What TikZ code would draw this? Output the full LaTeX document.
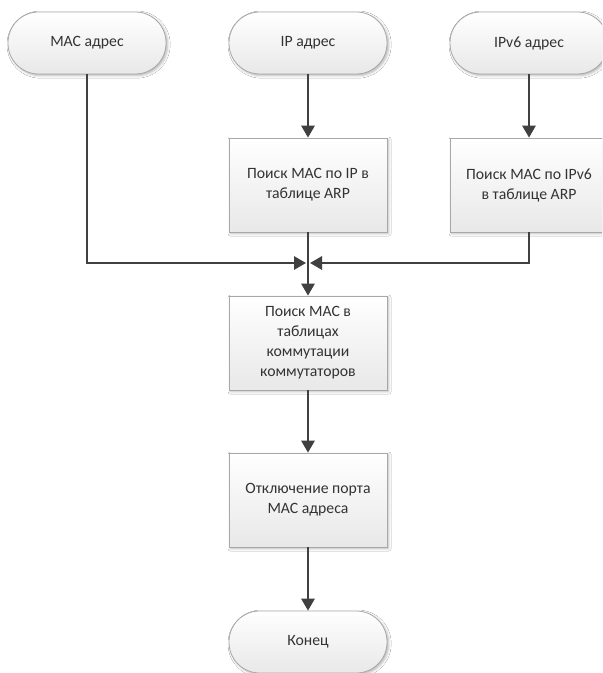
\documentclass[tikz,border=0pt]{standalone}
\usepackage{fontspec}
\setmainfont{Carlito}
\usetikzlibrary{arrows.meta,shadows.blur}
\definecolor{linec}{HTML}{404040}
\definecolor{edgec}{HTML}{A8A8A8}
\definecolor{textc}{HTML}{333333}
\begin{document}
\begin{tikzpicture}[x=0.75pt,y=-0.75pt,
  base/.style={draw=edgec, line width=0.6pt, top color=white, bottom color=black!9,
    text=textc, font=\fontsize{11.8}{15}\selectfont, align=center,
    blur shadow={shadow xshift=1.2pt, shadow yshift=-1.2pt, shadow opacity=30, shadow blur steps=4}},
  term/.style={base, minimum width=118.5pt, minimum height=46.5pt, rounded corners=23pt, inner sep=0pt},
  proc/.style={base, minimum width=118.5pt, minimum height=70.5pt, inner sep=2pt},
  flow/.style={draw=linec, line width=1.5pt, -{Triangle[length=9pt,width=10pt]}}]
\useasboundingbox (0,0) rectangle (602,673);
\begin{scope}[overlay]
\clip (0,0) rectangle (602,673);
\fill[white] (0,0) rectangle (602,673);

% start terminals
\node[term] (mac)  at (87,43)  {MAC адрес};
\node[term] (ip)   at (308,43) {IP адрес};
\node[term] (ipv6) at (529,43) {IPv6 адрес};

% lookup steps
\node[proc] (pip)   at (308,185) {Поиск MAC по IP в\\таблице ARP};
\node[proc] (pipv6) at (529,185) {Поиск MAC по IPv6\\в таблице ARP};
\node[proc] (search) at (308,343) {Поиск MAC в\\таблицах\\коммутации\\коммутаторов};
\node[proc] (cut)   at (308,500) {Отключение порта\\MAC адреса};
\node[term] (end)   at (308,642) {Конец};

% junction of the three branches
\coordinate (j) at (308,263);

\draw[flow] (ip) -- (pip);
\draw[flow] (ipv6) -- (pipv6);
\draw[flow, shorten >=1.5pt] (mac) |- (j);
\draw[flow, shorten >=1.5pt] (pipv6) |- (j);
\draw[flow] (pip) -- (search);
\draw[flow] (search) -- (cut);
\draw[flow] (cut) -- (end);
\end{scope}
\end{tikzpicture}
\end{document}
